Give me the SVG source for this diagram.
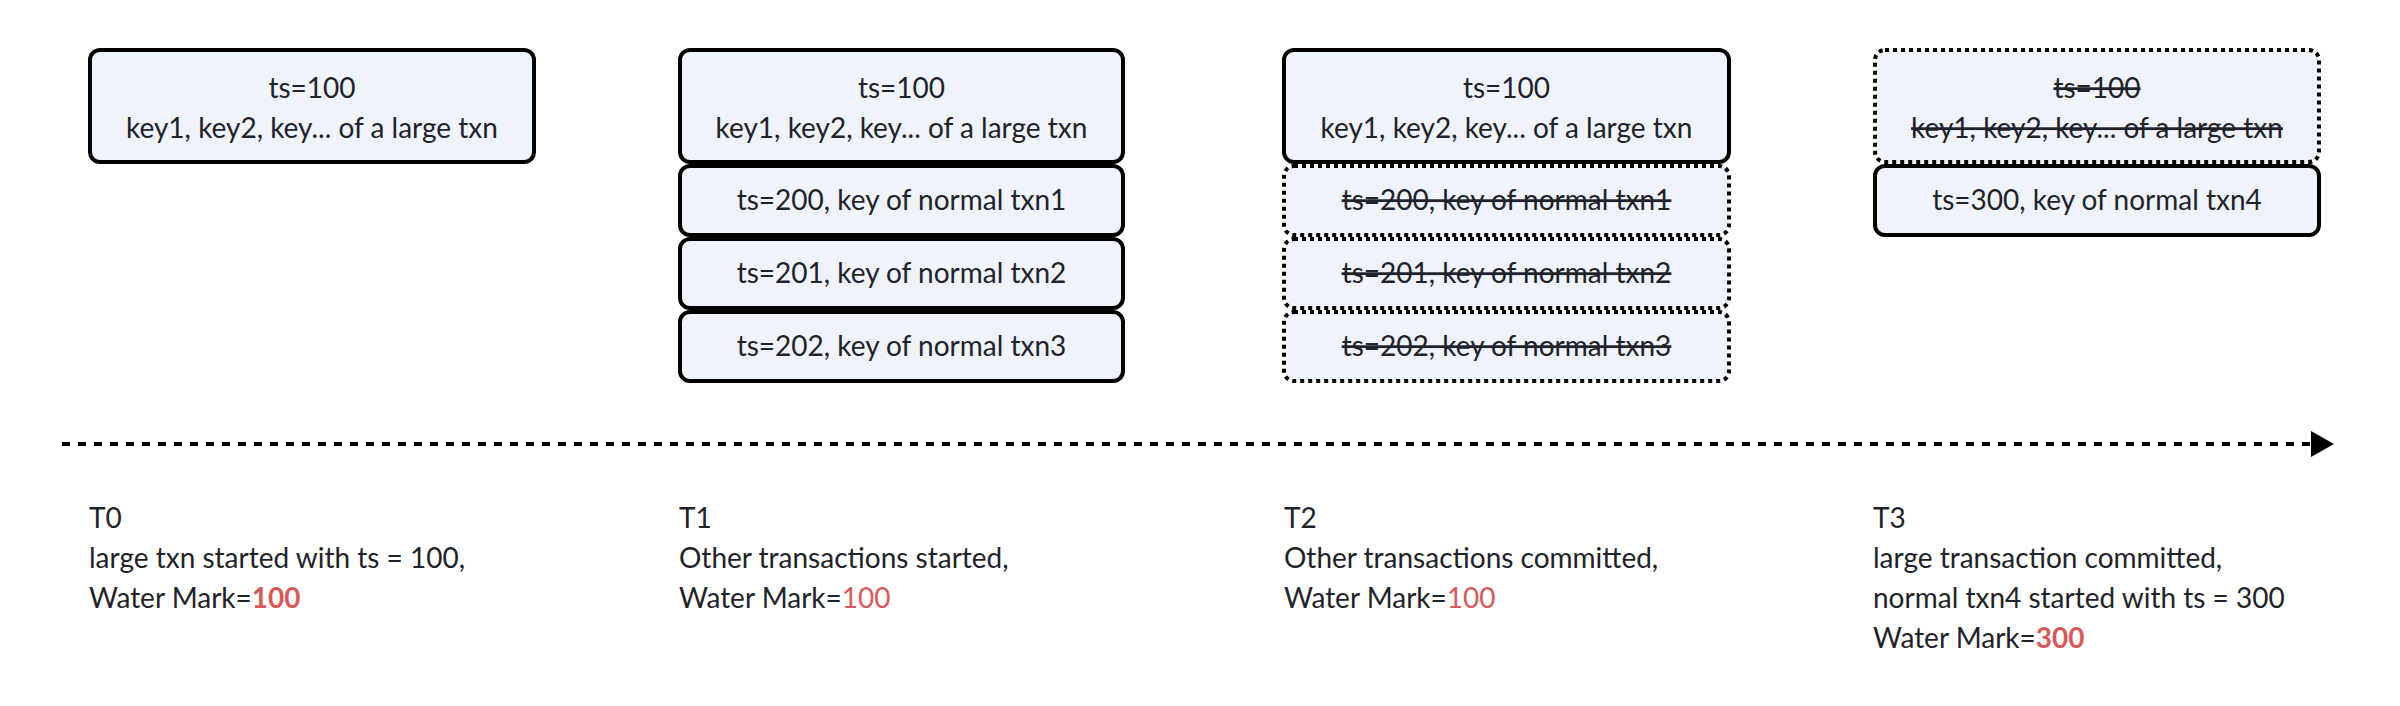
<svg xmlns="http://www.w3.org/2000/svg" width="2400" height="706" viewBox="0 0 2400 706">
  <defs>
    <style>
      .box { fill: #eef3fc; stroke: #000000; stroke-width: 4; }
      .dot { fill: #eef3fc; stroke: #000000; stroke-width: 4; stroke-dasharray: 4 4; }
      .t { font-family: Lato, "Noto Sans", sans-serif; font-size: 28px; fill: #1f2329; }
      .c { text-anchor: middle; }
      .s { text-decoration: line-through; }
      .red { fill: #d65a5a; }
      .b { font-weight: bold; }
      .axis { stroke: #000000; stroke-width: 4; stroke-dasharray: 8 8; fill: none; }
    </style>
    <marker id="arrow" markerUnits="userSpaceOnUse" markerWidth="24" markerHeight="26" refX="1" refY="13" orient="auto">
      <path d="M0,0 L23,13 L0,26 Z" fill="#000000"/>
    </marker>
  </defs>
  <rect width="2400" height="706" fill="#ffffff"/>

  <!-- T0 -->
  <g id="t0-large">
    <rect class="box" x="90" y="50" width="444" height="112" rx="10"/>
    <text class="t c" x="312" y="98">ts=100</text>
    <text class="t c" x="312" y="138">key1, key2, key... of a large txn</text>
  </g>

  <!-- T1 -->
  <g id="t1-large">
    <rect class="box" x="680" y="50" width="443" height="112" rx="10"/>
    <text class="t c" x="901.5" y="98">ts=100</text>
    <text class="t c" x="901.5" y="138">key1, key2, key... of a large txn</text>
  </g>
  <g id="t1-txn1">
    <rect class="box" x="680" y="166" width="443" height="69" rx="10"/>
    <text class="t c" x="901.5" y="210">ts=200, key of normal txn1</text>
  </g>
  <g id="t1-txn2">
    <rect class="box" x="680" y="239" width="443" height="69" rx="10"/>
    <text class="t c" x="901.5" y="283">ts=201, key of normal txn2</text>
  </g>
  <g id="t1-txn3">
    <rect class="box" x="680" y="312" width="443" height="69" rx="10"/>
    <text class="t c" x="901.5" y="356">ts=202, key of normal txn3</text>
  </g>

  <!-- T2 -->
  <g id="t2-large">
    <rect class="box" x="1284" y="50" width="445" height="112" rx="10"/>
    <text class="t c" x="1506.5" y="98">ts=100</text>
    <text class="t c" x="1506.5" y="138">key1, key2, key... of a large txn</text>
  </g>
  <g id="t2-txn1">
    <rect class="dot" x="1284" y="166" width="445" height="69" rx="10"/>
    <text class="t c s" x="1506.5" y="210">ts=200, key of normal txn1</text>
  </g>
  <g id="t2-txn2">
    <rect class="dot" x="1284" y="239" width="445" height="69" rx="10"/>
    <text class="t c s" x="1506.5" y="283">ts=201, key of normal txn2</text>
  </g>
  <g id="t2-txn3">
    <rect class="dot" x="1284" y="312" width="445" height="69" rx="10"/>
    <text class="t c s" x="1506.5" y="356">ts=202, key of normal txn3</text>
  </g>

  <!-- T3 -->
  <g id="t3-large">
    <rect class="dot" x="1875" y="50" width="444" height="112" rx="10"/>
    <text class="t c s" x="2097" y="98">ts=100</text>
    <text class="t c s" x="2097" y="138">key1, key2, key... of a large txn</text>
  </g>
  <g id="t3-txn4">
    <rect class="box" x="1875" y="166" width="444" height="69" rx="10"/>
    <text class="t c" x="2097" y="210">ts=300, key of normal txn4</text>
  </g>

  <!-- connectors -->
  <g id="connectors">
    <line class="axis" x1="62" y1="444" x2="2312" y2="444" marker-end="url(#arrow)"/>
  </g>

  <!-- time labels -->
  <g id="label-t0">
    <text class="t" x="89" y="528">T0</text>
    <text class="t" x="89" y="568">large txn started with ts = 100,</text>
    <text class="t" x="89" y="608">Water Mark=<tspan class="red b">100</tspan></text>
  </g>
  <g id="label-t1">
    <text class="t" x="679" y="528">T1</text>
    <text class="t" x="679" y="568">Other transactions started,</text>
    <text class="t" x="679" y="608">Water Mark=<tspan class="red">100</tspan></text>
  </g>
  <g id="label-t2">
    <text class="t" x="1284" y="528">T2</text>
    <text class="t" x="1284" y="568">Other transactions committed,</text>
    <text class="t" x="1284" y="608">Water Mark=<tspan class="red">100</tspan></text>
  </g>
  <g id="label-t3">
    <text class="t" x="1873" y="528">T3</text>
    <text class="t" x="1873" y="568">large transaction committed,</text>
    <text class="t" x="1873" y="608">normal txn4 started with ts = 300</text>
    <text class="t" x="1873" y="648">Water Mark=<tspan class="red b">300</tspan></text>
  </g>
</svg>
